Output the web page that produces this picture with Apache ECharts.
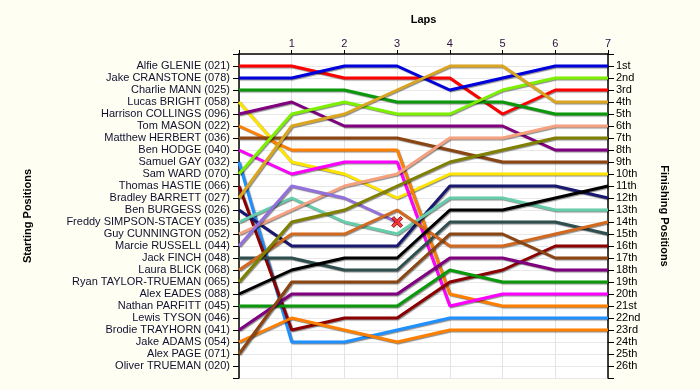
<!DOCTYPE html>
<html><head><meta charset="utf-8">
<script src="https://cdn.jsdelivr.net/npm/echarts@6/dist/echarts.min.js"></script>
<style>html,body{margin:0;padding:0;background:#fefef2}#c{width:700px;height:390px}</style>
</head><body><div id="c"></div>
<script>
const laps = [0, 1, 2, 3, 4, 5, 6, 7];
const lapLabels = ['', '1', '2', '3', '4', '5', '6', '7'];
const startNames = [
  'Alfie GLENIE (021)', 'Jake CRANSTONE (078)', 'Charlie MANN (025)', 'Lucas BRIGHT (058)',
  'Harrison COLLINGS (096)', 'Tom MASON (022)', 'Matthew HERBERT (036)', 'Ben HODGE (040)',
  'Samuel GAY (032)', 'Sam WARD (070)', 'Thomas HASTIE (066)', 'Bradley BARRETT (027)',
  'Ben BURGESS (026)', 'Freddy SIMPSON-STACEY (035)', 'Guy CUNNINGTON (052)', 'Marcie RUSSELL (044)',
  'Jack FINCH (048)', 'Laura BLICK (068)', 'Ryan TAYLOR-TRUEMAN (065)', 'Alex EADES (088)',
  'Nathan PARFITT (045)', 'Lewis TYSON (046)', 'Brodie TRAYHORN (041)', 'Jake ADAMS (054)',
  'Alex PAGE (071)', 'Oliver TRUEMAN (020)'
];
const finishLabels = [
  '1st', '2nd', '3rd', '4th', '5th', '6th', '7th', '8th', '9th', '10th', '11th', '12th', '13th',
  '14th', '15th', '16th', '17th', '18th', '19th', '20th', '21st', '22nd', '23rd', '24th', '25th', '26th'
];

// position of each driver at laps 0..7 (null = not running)
const alfieGlenie      = [1, 1, 2, 2, 2, 5, 3, 3];
const jakeCranstone    = [2, 2, 1, 1, 3, 2, 1, 1];
const charlieMann      = [3, 3, 3, 4, 4, 4, 5, 5];
const lucasBright      = [4, 9, 10, 12, 10, 10, 10, 10];
const harrisonCollings = [5, 4, 6, 6, 6, 6, 8, 8];
const tomMason         = [6, 8, 8, 8, 20, 21, 21, 21];
const matthewHerbert   = [7, 7, 7, 7, 8, 9, 9, 9];
const benHodge         = [8, 10, 9, 9, 21, 20, 20, 20];
const samuelGay        = [9, 24, 24, 23, 22, 22, 22, 22];
const samWard          = [10, 5, 4, 5, 5, 3, 2, 2];
const thomasHastie     = [11, 23, 22, 22, 19, 18, 16, 16];
const bradleyBarrett   = [12, 6, 5, 3, 1, 1, 4, 4];
const benBurgess       = [13, 16, 16, 16, 11, 11, 11, 12];
const freddySimpson    = [14, 12, 14, 15, 12, 12, 13, 13];
const guyCunnington    = [15, 13, 11, 10, 7, 7, 6, 6];
const marcieRussell    = [16, 11, 12, 14, null, null, null, null];
const jackFinch        = [17, 17, 18, 18, 14, 14, 14, 15];
const lauraBlick       = [18, 15, 15, 13, 16, 16, 15, 14];
const ryanTaylor       = [19, 14, 13, 11, 9, 8, 7, 7];
const alexEades        = [20, 18, 17, 17, 13, 13, 12, 11];
const nathanParfitt    = [21, 21, 21, 21, 18, 19, 19, 19];
const lewisTyson       = [22, null, null, null, null, null, null, null];
const brodieTrayhorn   = [23, 20, 20, 20, 17, 17, 18, 18];
const jakeAdams        = [24, 22, 23, 24, 23, 23, 23, 23];
const alexPage         = [25, 19, 19, 19, 15, 15, 17, 17];
const oliverTrueman    = [26, null, null, null, null, null, null, null];

const driverPositions = [
  alfieGlenie, jakeCranstone, charlieMann, lucasBright, harrisonCollings, tomMason, matthewHerbert,
  benHodge, samuelGay, samWard, thomasHastie, bradleyBarrett, benBurgess, freddySimpson, guyCunnington,
  marcieRussell, jackFinch, lauraBlick, ryanTaylor, alexEades, nathanParfitt, lewisTyson, brodieTrayhorn,
  jakeAdams, alexPage, oliverTrueman
];
const driverColors = [
  '#ff0000', '#0000dd', '#0a990a', '#ffe400', '#800080', '#ff8000', '#8b4513',
  '#ff00ff', '#1e90ff', '#7cf000', '#8b0000', '#daa520', '#191970', '#66cdaa', '#f5a07e',
  '#9370db', '#2f4f4f', '#d2691e', '#808000', '#000000', '#0a990a', '#888888', '#800080',
  '#ff8000', '#8b4513', '#888888'
];

const series = driverPositions.map((arr, i) => ({
  name: startNames[i],
  type: 'line',
  data: laps.map((l, j) => [l, arr[j]]),
  symbol: 'none',
  connectNulls: false,
  animation: false,
  lineStyle: {
    color: driverColors[i], width: 3,
    shadowColor: 'rgba(0,0,0,0.45)', shadowOffsetX: 1, shadowOffsetY: 1, shadowBlur: 1
  },
  z: 3
}));

// retirement markers: last known position of drivers who stopped before the final lap (after lap 0)
const retired = [];
driverPositions.forEach(arr => {
  let last = -1;
  arr.forEach((v, j) => { if (v != null) last = j; });
  if (last > 0 && last < laps.length - 1) retired.push([laps[last], arr[last]]);
});
series.push({
  type: 'scatter', data: retired, animation: false, z: 5,
  symbol: 'path://M2,0 L5,3 L8,0 L10,2 L7,5 L10,8 L8,10 L5,7 L2,10 L0,8 L3,5 L0,2 Z',
  symbolSize: 11,
  itemStyle: { color: '#ff1010', borderColor: '#700000', borderWidth: 1 }
});

const font = 'Liberation Sans, Arial, sans-serif';
const chart = echarts.init(document.getElementById('c'), null, { renderer: 'canvas' });
chart.setOption({
  backgroundColor: '#fefef2',
  animation: false,
  grid: { left: 239, right: 92, top: 54, bottom: 12, show: true, backgroundColor: '#ffffff', borderWidth: 0 },
  xAxis: {
    type: 'value', position: 'top', min: 0, max: 7, interval: 1,
    name: 'Laps', nameLocation: 'middle', nameGap: 29,
    nameTextStyle: { fontFamily: font, fontSize: 11, fontWeight: 'bold', color: '#000' },
    axisLine: { show: true, lineStyle: { color: '#000', width: 1.5 } },
    axisTick: { show: true, length: 4, lineStyle: { color: '#000' } },
    axisLabel: { formatter: v => lapLabels[v] || '', fontFamily: font, fontSize: 11, color: '#2a1040', margin: 5 },
    splitLine: { show: true, lineStyle: { color: '#e4e4e4', width: 1 } }
  },
  yAxis: [
    {
      type: 'value', inverse: true, min: 0, max: 27, interval: 1, position: 'left',
      name: 'Starting Positions', nameLocation: 'middle', nameGap: 206, nameRotate: 90,
      nameTextStyle: { fontFamily: font, fontSize: 11, fontWeight: 'bold', color: '#000' },
      axisLine: { show: true, onZero: false, lineStyle: { color: '#000', width: 1.5 } },
      axisTick: { show: true, length: 6, lineStyle: { color: '#000' } },
      axisLabel: {
        formatter: v => startNames[v - 1] || '', fontFamily: font, fontSize: 11, color: '#101030', margin: 9
      },
      splitLine: { show: true, lineStyle: { color: '#e8e8e8', width: 1 } }
    },
    {
      type: 'value', inverse: true, min: 0, max: 27, interval: 1, position: 'right',
      name: 'Finishing Positions', nameLocation: 'middle', nameGap: 51, nameRotate: -90,
      nameTextStyle: { fontFamily: font, fontSize: 11, fontWeight: 'bold', color: '#000' },
      axisLine: { show: true, onZero: false, lineStyle: { color: '#000', width: 1.5 } },
      axisTick: { show: true, length: 6, lineStyle: { color: '#000' } },
      axisLabel: {
        formatter: v => finishLabels[v - 1] || '', fontFamily: font, fontSize: 11, color: '#000', margin: 8
      },
      splitLine: { show: false }
    }
  ],
  series: series
});
</script>
</body></html>
